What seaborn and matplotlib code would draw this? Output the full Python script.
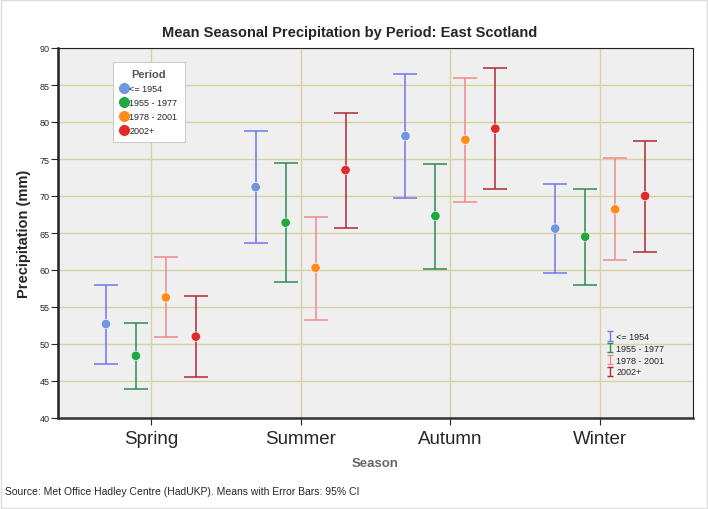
import numpy as np
import pandas as pd
import matplotlib
matplotlib.use("Agg")
import matplotlib.pyplot as plt
import seaborn as sns

seasons = ["Spring", "Summer", "Autumn", "Winter"]
periods = ["<= 1954", "1955 - 1977", "1978 - 2001", "2002+"]

# mean, lower and upper 95% CI per period, ordered by season
mean_1954 = [52.7, 71.2, 78.1, 65.6]
lo_1954 = [47.3, 63.6, 69.7, 59.6]
hi_1954 = [58.0, 78.8, 86.5, 71.6]

mean_1977 = [48.4, 66.4, 67.3, 64.5]
lo_1977 = [43.9, 58.4, 60.2, 58.0]
hi_1977 = [52.8, 74.5, 74.3, 70.9]

mean_2001 = [56.3, 60.3, 77.6, 68.2]
lo_2001 = [50.9, 53.3, 69.2, 61.4]
hi_2001 = [61.8, 67.2, 86.0, 75.1]

mean_2002 = [51.0, 73.5, 79.1, 70.0]
lo_2002 = [45.5, 65.7, 70.9, 62.5]
hi_2002 = [56.5, 81.2, 87.3, 77.5]

marker_colors = ["#6f96e0", "#22a843", "#ff8c1a", "#e02a2a"]
bar_colors = ["#7474f0", "#2e8b57", "#f08a8a", "#b02a35"]

rows = []
for p, m, lo, hi in zip(periods,
                        [mean_1954, mean_1977, mean_2001, mean_2002],
                        [lo_1954, lo_1977, lo_2001, lo_2002],
                        [hi_1954, hi_1977, hi_2001, hi_2002]):
    for s, mv, lv, hv in zip(seasons, m, lo, hi):
        rows.append({"season": s, "period": p, "mean": mv, "lo": lv, "hi": hv})
df = pd.DataFrame(rows)

# dodge each period around its season position
offsets = np.linspace(-0.3, 0.3, len(periods))
df["xpos"] = df["season"].map({s: i for i, s in enumerate(seasons)}) + \
    df["period"].map({p: offsets[i] for i, p in enumerate(periods)})

sns.set_style("ticks")
plt.rcParams["font.family"] = ["Liberation Sans", "DejaVu Sans"]

fig = plt.figure(figsize=(7.08, 5.10), dpi=100)
ax = fig.add_axes([58/708, 91/510, 635/708, 370/510])
ax.set_facecolor("#efefef")

err_handles = []
for i, p in enumerate(periods):
    d = df[df["period"] == p]
    ax.errorbar(d["xpos"], d["mean"],
                yerr=[d["mean"] - d["lo"], d["hi"] - d["mean"]],
                fmt="none", ecolor=bar_colors[i], elinewidth=1.3,
                capsize=8.5, capthick=1.3, alpha=0.85, zorder=3)
    # small proxy glyph for the legend
    h = ax.errorbar([np.nan], [np.nan], yerr=[[0], [0]], fmt="none",
                    ecolor=bar_colors[i], elinewidth=1.0, capsize=2.2, capthick=1.0)
    err_handles.append(h)

sns.scatterplot(data=df, x="xpos", y="mean", hue="period", hue_order=periods,
                palette=marker_colors, s=45, edgecolor="white", linewidth=0.4,
                ax=ax, zorder=4, legend=False)

ax.set_xlim(-0.62, 3.62)
ax.set_ylim(40, 90)
ax.set_xticks(range(len(seasons)))
ax.set_xticklabels(seasons, fontsize=13.5)
ax.set_yticks(np.arange(40, 91, 5))
ax.tick_params(axis="y", labelsize=6.5, length=5, width=0.8, pad=1)
ax.tick_params(axis="x", length=5, width=0.8, pad=4)
ax.grid(True, color="#d8d2a0", linewidth=1.0, zorder=0)
ax.set_axisbelow(True)

for side in ["top", "right"]:
    ax.spines[side].set_visible(True)
    ax.spines[side].set_linewidth(0.8)
    ax.spines[side].set_color("#222222")
ax.spines["left"].set_linewidth(1.8)
ax.spines["left"].set_color("#222222")
ax.spines["bottom"].set_linewidth(1.8)
ax.spines["bottom"].set_color("#333333")

ax.set_xlabel("Season", fontsize=9.5, fontweight="bold", color="#666666", labelpad=7)
ax.set_ylabel("Precipitation (mm)", fontsize=10.5, fontweight="bold", labelpad=6)
fig.text(350/708, 1 - 33/510, "Mean Seasonal Precipitation by Period: East Scotland",
         fontsize=10.5, fontweight="bold", ha="center", va="center")

# period legend with circles
circle_handles = [plt.Line2D([], [], marker="o", linestyle="none", markersize=8.5,
                             markerfacecolor=c, markeredgecolor="white",
                             markeredgewidth=0.5) for c in marker_colors]
leg1 = ax.legend(circle_handles, periods, title="Period", loc="upper left",
                 bbox_to_anchor=(0.087, 0.962), fontsize=6.5, title_fontsize=8,
                 frameon=True, fancybox=False, edgecolor="#cccccc",
                 facecolor="white", framealpha=1, handlelength=0.8,
                 handletextpad=0.2, borderpad=0.8, labelspacing=0.55,
                 borderaxespad=0)
leg1.get_title().set_fontweight("bold")
leg1.get_title().set_color("#555555")
leg1.get_frame().set_linewidth(0.8)
ax.add_artist(leg1)

# error bar legend
ax.legend(err_handles, periods, loc="upper left", bbox_to_anchor=(0.865, 0.232),
          fontsize=6.5, frameon=False, handlelength=0.6, handletextpad=0.4,
          labelspacing=0.3, borderaxespad=0, borderpad=0)

fig.text(5/708, 1 - 492/510, "Source: Met Office Hadley Centre (HadUKP). Means with Error Bars: 95% CI",
         fontsize=7.5, va="center", ha="left")

fig.patches.append(plt.Rectangle((0.002, 0.002), 0.996, 0.996, transform=fig.transFigure,
                                 fill=False, edgecolor="#dddddd", linewidth=1))

fig.savefig("out.png", dpi=100)
